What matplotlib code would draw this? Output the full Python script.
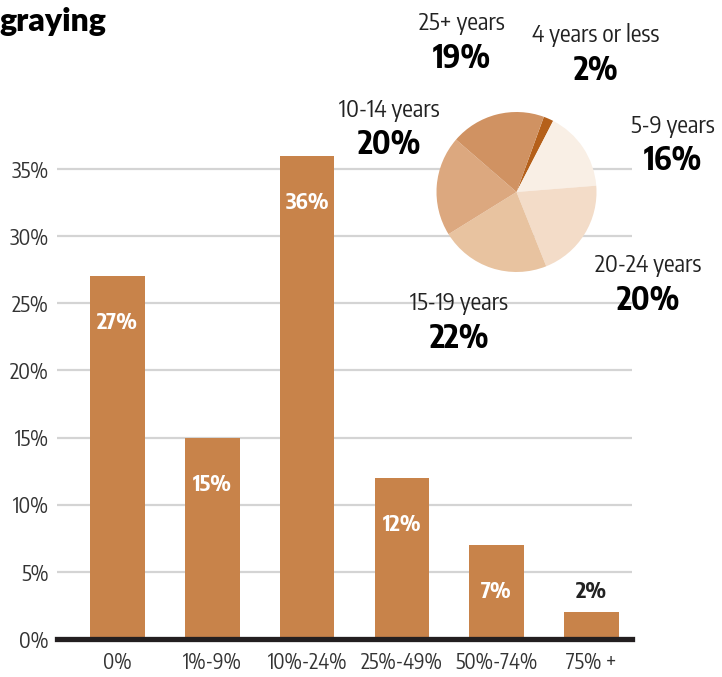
import matplotlib
matplotlib.use("Agg")
import matplotlib.pyplot as plt
from matplotlib import font_manager
from matplotlib.font_manager import FontProperties

# Daten
categorias = ["0%", "1%-9%", "10%-24%", "25%-49%", "50%-74%", "75% +"]
valores = [27, 15, 36, 12, 7, 2]
ticks_y = [0, 5, 10, 15, 20, 25, 30, 35]

pie_labels = ["4 years or less", "5-9 years", "20-24 years", "15-19 years", "10-14 years", "25+ years"]
pie_valores = [2, 16, 20, 22, 20, 19]
pie_colores = ["#b5601a", "#f9efe5", "#f3dcc8", "#e8c3a0", "#dca87f", "#d09262"]


def peso(f):
    w = f.weight
    if isinstance(w, str):
        w = {"bold": 700, "normal": 400, "regular": 400}.get(w, 400)
    return w


# buscar una fuente estrecha (normal y negrita de la misma familia)
estrechas = [f for f in font_manager.fontManager.ttflist
             if ("Narrow" in f.name or "Condensed" in f.name) and f.style == "normal"]
familias = {}
for f in estrechas:
    familias.setdefault(f.name, []).append(f)
mejor = None
for nombre, fs in familias.items():
    reg = min(fs, key=lambda f: abs(peso(f) - 400))
    bol = min(fs, key=lambda f: abs(peso(f) - 700))
    coste = abs(peso(reg) - 400) + abs(peso(bol) - 700) + (0 if "Sans" in nombre else 50)
    if mejor is None or coste < mejor[0]:
        mejor = (coste, reg, bol)
if mejor:
    fp_reg = FontProperties(fname=mejor[1].fname)
    fp_bold = FontProperties(fname=mejor[2].fname)
else:
    fp_reg = FontProperties(family="DejaVu Sans")
    fp_bold = FontProperties(family="DejaVu Sans", weight="bold")

W, H = 722, 677
fig = plt.figure(figsize=(W / 100, H / 100), dpi=100)

# ejes de barras en pixeles
y0, px_pct = 639, 13.43
top = 38
ax = fig.add_axes([57 / W, (H - y0) / H, (632 - 57) / W, top * px_pct / H])
x = list(range(len(categorias)))
ax.bar(x, valores, width=0.575, color="#c8834a", zorder=2)
ax.set_xlim(-0.64, 5.43)
ax.set_ylim(0, top)
ax.set_yticks(ticks_y)
ax.set_yticklabels([f"{t}%" for t in ticks_y], fontproperties=fp_reg, size=15.5)
ax.set_xticks(x)
ax.set_xticklabels(categorias, fontproperties=fp_reg, size=15)
ax.grid(axis="y", color="#d4d4d4", lw=1.6, zorder=0)
ax.set_axisbelow(True)
for s in ax.spines.values():
    s.set_visible(False)
ax.tick_params(length=0, colors="#333333", pad=6)
ax.tick_params(axis="x", pad=9)
ax.axhline(0, color="#231f20", lw=3.8, zorder=3, clip_on=False)

for xi, v in zip(x, valores):
    if v > 5:
        ax.text(xi, v - 3.5, f"{v}%", ha="center", va="center", color="white",
                fontproperties=fp_bold, size=16, zorder=4)
    else:
        ax.text(xi, v + 1.5, f"{v}%", ha="center", va="center", color="#222222",
                fontproperties=fp_bold, size=16, zorder=4)

# titulo cortado
fig.text(106 / W, 1 - 21 / H, "graying", ha="right", va="center", fontsize=23,
         fontweight="heavy", family=["Lato", "DejaVu Sans"], color="black")

# pastel
cx, cy, r = 516.5, 192, 80
axp = fig.add_axes([(cx - r) / W, (H - cy - r) / H, 2 * r / W, 2 * r / H])
axp.pie(pie_valores, colors=pie_colores, startangle=70, counterclock=False,
        wedgeprops=dict(linewidth=0))
axp.set_xlim(-1, 1)
axp.set_ylim(-1, 1)
axp.set_aspect("equal")

pos_labels = [(596, 35), (673, 126), (648, 265), (459, 303), (389, 110), (462, 23)]
for lab, v, (px, py) in zip(pie_labels, pie_valores, pos_labels):
    fig.text(px / W, 1 - py / H, lab, ha="center", va="center", fontproperties=fp_reg,
             size=17, color="#222222")
    fig.text(px / W, 1 - (py + 35) / H, f"{v}%", ha="center", va="center",
             fontproperties=fp_bold, size=23, color="black")

fig.savefig("out.png", dpi=100)
